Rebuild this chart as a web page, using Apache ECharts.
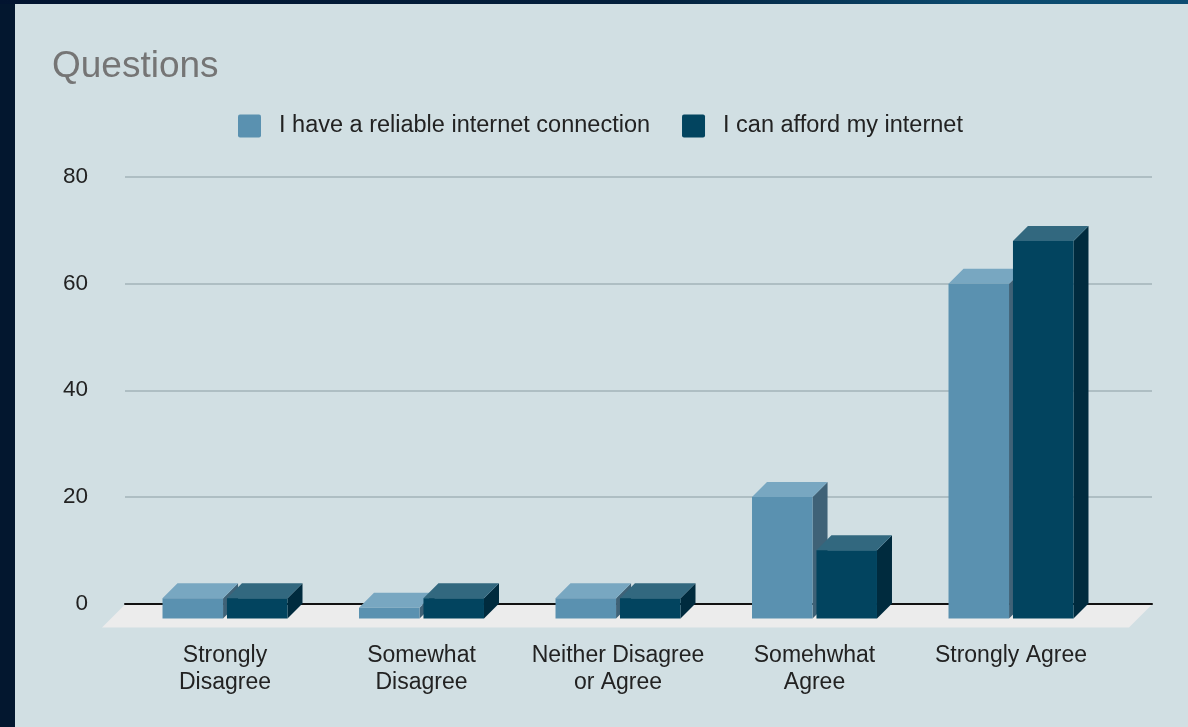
<!DOCTYPE html>
<html>
<head>
<meta charset="utf-8">
<script src="https://cdn.jsdelivr.net/npm/echarts@6/dist/echarts.min.js"></script>
<style>
  html, body { margin: 0; padding: 0; width: 1188px; height: 727px; overflow: hidden; background: #03172f; }
  #strip { position: absolute; left: 0; top: 0; width: 1188px; height: 4px;
           background: linear-gradient(90deg, #021430 0%, #03203d 55%, #0b4a6e 82%, #0d4d73 100%); }
  #panel { position: absolute; left: 15px; top: 4px; width: 1173px; height: 723px; background: #d1dfe3; }
  #chart { position: absolute; left: 0; top: 0; width: 1188px; height: 727px; }
</style>
</head>
<body>
<div id="strip"></div>
<div id="panel"></div>
<div id="chart"></div>
<script>
// Survey answers on the category axis
const categories = [
  'Strongly\nDisagree',
  'Somewhat\nDisagree',
  'Neither Disagree\nor Agree',
  'Somehwhat\nAgree',
  'Strongly Agree'
];
const seriesNames = ['I have a reliable internet connection', 'I can afford my internet'];
const reliableValues = [1, -0.8, 1, 20, 60];
const affordValues = [1, 1, 1, 10, 68];
const yTicks = [0, 20, 40, 60, 80];

const FONT = '"Liberation Sans", Arial, sans-serif';
const DEPTH = 15;                       // 3D extrusion of each box, px
const barSpan = [[-0.318, -0.010], [0.010, 0.318]];  // bar edges as fraction of band width
const palettes = [
  { front: '#5a91b0', top: '#78a7c1', side: '#3f6277' },
  { front: '#02445f', top: '#32687f', side: '#002b3e' }
];
const swatchIcon = 'path://M2,0H21A2,2,0,0,1,23,2V21A2,2,0,0,1,21,23H2A2,2,0,0,1,0,21V2A2,2,0,0,1,2,0Z';

function boxRenderer(k) {
  const c = palettes[k];
  return function (params, api) {
    const cat = api.value(0);
    const val = api.value(1);
    const topPt = api.coord([cat, val]);
    const basePt = api.coord([cat, 0]);
    const band = api.size([1, 0])[0];
    const x0 = topPt[0] + band * barSpan[k][0];
    const x1 = topPt[0] + band * barSpan[k][1];
    const yT = topPt[1];
    const yB = basePt[1] + DEPTH;
    const d = DEPTH;
    return {
      type: 'group',
      children: [
        { type: 'polygon', shape: { points: [[x1, yT], [x1 + d, yT - d], [x1 + d, yB - d], [x1, yB]] },
          style: { fill: c.side } },
        { type: 'polygon', shape: { points: [[x0, yT], [x0 + d, yT - d], [x1 + d, yT - d], [x1, yT]] },
          style: { fill: c.top } },
        { type: 'rect', shape: { x: x0, y: yT, width: x1 - x0, height: yB - yT },
          style: { fill: c.front } }
      ]
    };
  };
}

const chart = echarts.init(document.getElementById('chart'), null, { renderer: 'canvas' });

const yMin = yTicks[0], yMax = yTicks[yTicks.length - 1], yStep = yTicks[1] - yTicks[0];

chart.setOption({
  backgroundColor: 'transparent',
  animation: false,
  textStyle: { fontFamily: FONT },
  title: {
    text: 'Questions',
    left: 47, top: 43,
    textStyle: { fontFamily: FONT, fontSize: 37, fontWeight: 'normal', color: '#757575' }
  },
  legend: {
    left: 233, top: 109,
    itemWidth: 23, itemHeight: 23, itemGap: 32,
    icon: swatchIcon,
    data: seriesNames,
    textStyle: { fontFamily: FONT, fontSize: 23.5, color: '#222222', padding: [0, 0, 0, 13] }
  },
  grid: [
    { left: 126.75, right: 78.75, top: 177, bottom: 123.5 },   // bars
    { left: 125, right: 36, top: 177, bottom: 123.5 }          // gridlines & value labels
  ],
  xAxis: [
    {
      type: 'category', gridIndex: 0, data: categories,
      axisLine: { show: false }, axisTick: { show: false },
      axisLabel: { margin: 39, fontFamily: FONT, fontSize: 23, lineHeight: 27, color: '#222222', interval: 0 }
    },
    {
      type: 'value', gridIndex: 1, min: 0, max: 1,
      axisLine: { show: true, lineStyle: { color: '#111111', width: 2 } },
      axisTick: { show: false }, axisLabel: { show: false }, splitLine: { show: false }
    }
  ],
  yAxis: [
    { type: 'value', gridIndex: 0, min: yMin, max: yMax, interval: yStep, show: false },
    {
      type: 'value', gridIndex: 1, min: yMin, max: yMax, interval: yStep,
      axisLine: { show: false }, axisTick: { show: false },
      axisLabel: { margin: 37, fontFamily: FONT, fontSize: 22.5, color: '#222222' },
      splitLine: { show: true, lineStyle: { color: '#a2b3b9', width: 1.5 } }
    }
  ],
  series: [
    {
      name: seriesNames[0], type: 'custom', xAxisIndex: 0, yAxisIndex: 0,
      itemStyle: { color: palettes[0].front },
      renderItem: boxRenderer(0),
      encode: { x: 0, y: 1 },
      data: reliableValues.map((v, i) => [i, v]),
      z: 5
    },
    {
      name: seriesNames[1], type: 'custom', xAxisIndex: 0, yAxisIndex: 0,
      itemStyle: { color: palettes[1].front },
      renderItem: boxRenderer(1),
      encode: { x: 0, y: 1 },
      data: affordValues.map((v, i) => [i, v]),
      z: 6
    }
  ]
});

// Floor plane under the boxes, derived from the gridline axis extent
const backL = chart.convertToPixel({ xAxisIndex: 1, yAxisIndex: 1 }, [0, 0]);
const backR = chart.convertToPixel({ xAxisIndex: 1, yAxisIndex: 1 }, [1, 0]);
const fdx = -23, fdy = 24;
chart.setOption({
  graphic: [{
    type: 'polygon', z: -10, silent: true,
    shape: { points: [
      [backL[0], backL[1] + 1], [backR[0], backR[1] + 1],
      [backR[0] + fdx, backR[1] + fdy], [backL[0] + fdx, backL[1] + fdy]
    ] },
    style: { fill: '#ececec' }
  }]
});
</script>
</body>
</html>
